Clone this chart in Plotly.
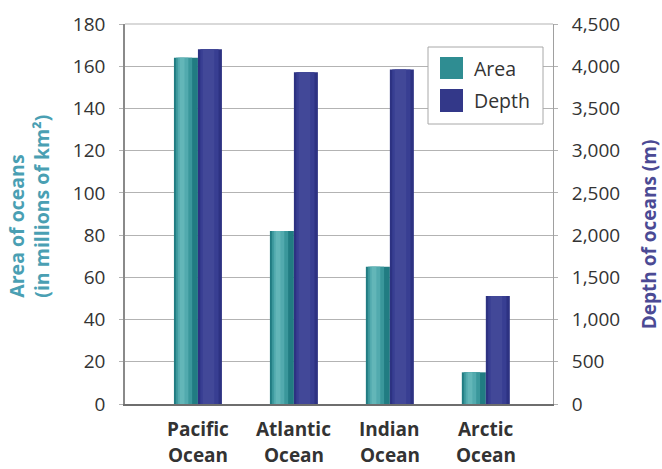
import plotly.graph_objects as go

# Ocean data
ocean_names = ["Pacific", "Atlantic", "Indian", "Arctic"]
area_mkm2 = [164, 82, 65, 15]          # millions of km²
depth_m = [4200, 3930, 3960, 1280]     # metres
left_ticks = [0, 20, 40, 60, 80, 100, 120, 140, 160, 180]
right_ticks = [0, 500, 1000, 1500, 2000, 2500, 3000, 3500, 4000, 4500]

TEAL_TITLE = "#4a9fb3"
NAVY_TITLE = "#4b4a94"
TXT = "#333333"
FONT = "Open Sans"

x_idx = list(range(len(ocean_names)))
W = 0.25

fig = go.Figure()

def shaded_bars(y, yaxis, offset, layers):
    # layered bars of the same height give a rounded, cylinder-like shading
    for dx, w, col in layers:
        fig.add_trace(go.Bar(
            x=x_idx, y=y, yaxis=yaxis, width=w, offset=offset + dx,
            marker=dict(color=col, line=dict(width=0)),
            showlegend=False, hoverinfo="skip"))

shaded_bars(area_mkm2, "y", -W, [
    (0.0, W, "#217c82"),
    (0.02, 0.17, "#3a979b"),
    (0.04, 0.11, "#52aaae"),
    (0.06, 0.05, "#63b6b8"),
])
shaded_bars(depth_m, "y2", 0.0, [
    (0.0, W, "#2d3282"),
    (0.025, 0.19, "#383e92"),
    (0.05, 0.12, "#424898"),
])

grid = "#b3b3b3"
fig.update_layout(
    width=662, height=469,
    margin=dict(l=125, r=109, t=24, b=65),
    paper_bgcolor="white", plot_bgcolor="white",
    barmode="overlay",
    showlegend=False,
    font=dict(family=FONT, color=TXT, size=19),
    xaxis=dict(
        range=[-0.76, 3.70], tickmode="array", tickvals=x_idx, ticktext=[""] * len(x_idx),
        showgrid=False, showline=True, linecolor="#6e6e6e", linewidth=2,
        ticks="", zeroline=False, fixedrange=True),
    yaxis=dict(
        range=[0, 180], tickvals=left_ticks, showgrid=True, gridcolor=grid, gridwidth=1,
        showline=True, linecolor="#8a8a8a", linewidth=1.5,
        ticks="outside", ticklen=4, tickcolor=grid, ticklabelstandoff=10,
        tickfont=dict(size=19, color=TXT), zeroline=False),
    yaxis2=dict(
        range=[0, 4500], tickvals=right_ticks, tickformat=",", overlaying="y", side="right",
        showgrid=False, showline=True, linecolor="#a0a0a0", linewidth=1,
        ticks="outside", ticklen=4, tickcolor=grid, ticklabelstandoff=10,
        tickfont=dict(size=19, color=TXT), zeroline=False),
)

# category labels, two lines each
for i, name in zip(x_idx, ocean_names):
    for txt, yp in ((name, -0.066), ("Ocean", -0.134)):
        fig.add_annotation(xref="x", yref="paper", x=i, y=yp, text=txt, showarrow=False,
                           xanchor="center", yanchor="middle",
                           font=dict(size=19, color=TXT, family=FONT, weight="bold"))

# top frame line
fig.add_shape(type="line", xref="paper", yref="paper", x0=0, x1=1, y0=1, y1=1,
              line=dict(color=grid, width=1))

# axis titles
fig.add_annotation(xref="paper", yref="paper", x=-0.225, y=0.275, xanchor="center", yanchor="bottom",
                   text="Area of oceans<br>(in millions of km²)", textangle=-90, align="left",
                   showarrow=False, font=dict(size=19.5, color=TEAL_TITLE, family=FONT, weight="bold"))
fig.add_annotation(xref="paper", yref="paper", x=1.225, y=0.192, xanchor="center", yanchor="bottom",
                   text="Depth of oceans (m)", textangle=-90,
                   showarrow=False, font=dict(size=19, color=NAVY_TITLE, family=FONT, weight="bold"))

# legend box with square swatches
def px_x(p):
    return (p - 125) / 428.0

def px_y(p):
    return 1 - (p - 24) / 380.0

fig.add_shape(type="rect", xref="paper", yref="paper",
              x0=px_x(428), x1=px_x(543), y0=px_y(124), y1=px_y(47),
              line=dict(color="#a8a8a8", width=1), fillcolor="white")
legend_items = [("Area", "#2f8d92", 57, 79), ("Depth", "#333889", 89, 112)]
for name, col, ytop, ybot in legend_items:
    fig.add_shape(type="rect", xref="paper", yref="paper",
                  x0=px_x(440), x1=px_x(463), y0=px_y(ybot), y1=px_y(ytop),
                  line=dict(width=0), fillcolor=col)
    fig.add_annotation(xref="paper", yref="paper", x=px_x(472), y=px_y((ytop + ybot) / 2),
                       xanchor="left", yanchor="middle", text=name, showarrow=False,
                       font=dict(size=19.5, color=TXT, family=FONT))

fig.write_html("out.html")
